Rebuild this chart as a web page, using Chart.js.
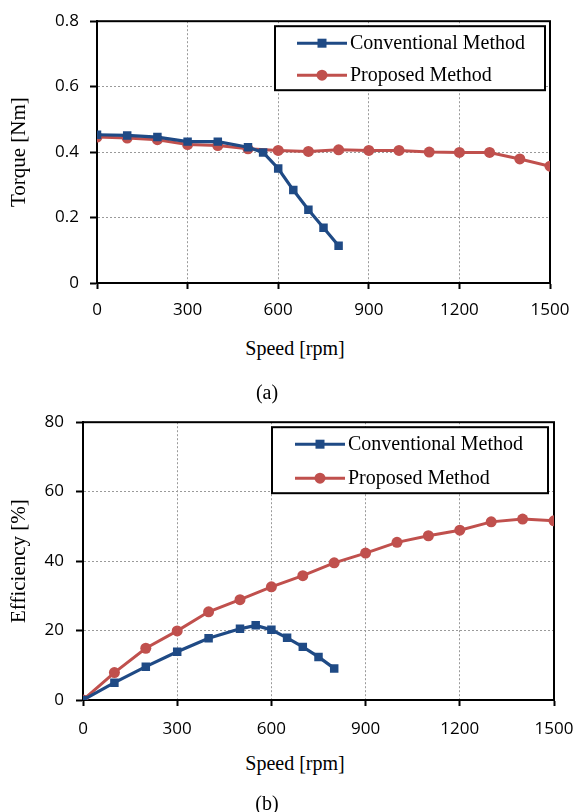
<!DOCTYPE html>
<html>
<head>
<meta charset="utf-8">
<script src="https://cdn.jsdelivr.net/npm/chart.js@4/dist/chart.umd.min.js"></script>
<style>
  body { margin: 0; background: #fff; width: 574px; height: 812px; position: relative; overflow: hidden; }
  .wrap { position: absolute; left: 0; width: 574px; }
  .txt { position: absolute; font-family: "Liberation Serif", "Times New Roman", serif; font-size: 20px; color: #000;
         transform: translate(-50%, -50%); white-space: nowrap; }
</style>
</head>
<body>
<div class="wrap" style="top:0;height:320px"><canvas id="torqueChart"></canvas></div>
<div class="wrap" style="top:400px;height:340px"><canvas id="effChart"></canvas></div>
<div class="txt" style="left:295px;top:348px">Speed [rpm]</div>
<div class="txt" style="left:267px;top:392px">(a)</div>
<div class="txt" style="left:295px;top:763px">Speed [rpm]</div>
<div class="txt" style="left:267px;top:803px">(b)</div>
<script>
// speeds (rpm)
const convSpeed = [0, 100, 200, 300, 400, 500, 550, 600, 650, 700, 750, 800];
const propSpeed = [0, 100, 200, 300, 400, 500, 600, 700, 800, 900, 1000, 1100, 1200, 1300, 1400, 1500];

// torque [Nm]
const convTorque = [0.453, 0.451, 0.446, 0.432, 0.432, 0.415, 0.399, 0.350, 0.284, 0.224, 0.169, 0.114];
const propTorque = [0.446, 0.443, 0.438, 0.423, 0.420, 0.410, 0.405, 0.402, 0.407, 0.405, 0.405, 0.400, 0.399, 0.399, 0.379, 0.357];

// efficiency [%]
const convEff = [0, 5.0, 9.6, 13.9, 17.8, 20.5, 21.5, 20.2, 17.9, 15.3, 12.4, 9.1];
const propEff = [0, 7.9, 14.9, 19.9, 25.4, 28.9, 32.6, 35.8, 39.5, 42.3, 45.4, 47.3, 48.9, 51.3, 52.1, 51.6];

const seriesNames = ['Conventional Method', 'Proposed Method'];
const blue = '#1f4a85';
const red = '#c0504d';

function pts(xs, ys) {
  return xs.map((x, i) => ({ x: x, y: ys[i] }));
}

// black box round the plot area
const frame = {
  id: 'frame',
  beforeDatasetsDraw(chart) {
    const a = chart.chartArea;
    const ctx = chart.ctx;
    ctx.save();
    ctx.strokeStyle = '#000';
    ctx.lineWidth = 2;
    ctx.strokeRect(a.left, a.top, a.right - a.left, a.bottom - a.top);
    ctx.restore();
  }
};

// legend inside a bordered box, line + marker samples
const boxLegend = {
  id: 'boxLegend',
  afterDraw(chart, args, opts) {
    const a = chart.chartArea;
    const ctx = chart.ctx;
    const x0 = a.right - opts.right - opts.width;
    const y0 = a.top + opts.top;
    ctx.save();
    ctx.fillStyle = '#fff';
    ctx.fillRect(x0, y0, opts.width, opts.height);
    ctx.strokeStyle = '#000';
    ctx.lineWidth = 2;
    ctx.strokeRect(x0, y0, opts.width, opts.height);
    ctx.font = '20px "Liberation Serif", serif';
    ctx.textBaseline = 'middle';
    chart.data.datasets.forEach((ds, i) => {
      const y = y0 + opts.rowStart + i * opts.rowGap;
      const lx = x0 + opts.lineStart;
      ctx.strokeStyle = ds.borderColor;
      ctx.lineWidth = 3;
      ctx.beginPath();
      ctx.moveTo(lx, y);
      ctx.lineTo(lx + 50, y);
      ctx.stroke();
      ctx.fillStyle = ds.borderColor;
      if (ds.pointStyle === 'rect') {
        ctx.fillRect(lx + 25 - 4.5, y - 4.5, 9, 9);
      } else {
        ctx.beginPath();
        ctx.arc(lx + 25, y, 5.5, 0, Math.PI * 2);
        ctx.fill();
      }
      ctx.fillStyle = '#000';
      ctx.fillText(ds.label, lx + 53, y + 1);
    });
    ctx.restore();
  }
};

function makeChart(id, convY, propY, cfg) {
  const ctx = document.getElementById(id).getContext('2d');
  return new Chart(ctx, {
    type: 'line',
    data: {
      datasets: [
        {
          label: seriesNames[0],
          data: pts(convSpeed, convY),
          borderColor: blue,
          backgroundColor: blue,
          borderWidth: 3.2,
          pointStyle: 'rect',
          pointRadius: 6,
          pointBorderWidth: 0
        },
        {
          label: seriesNames[1],
          data: pts(propSpeed, propY),
          borderColor: red,
          backgroundColor: red,
          borderWidth: 3,
          pointStyle: 'circle',
          pointRadius: 5.5,
          pointBorderWidth: 0
        }
      ]
    },
    options: {
      responsive: true,
      maintainAspectRatio: false,
      animation: false,
      layout: { padding: cfg.padding },
      plugins: {
        legend: { display: false },
        tooltip: { enabled: false },
        boxLegend: cfg.legend
      },
      scales: {
        x: {
          type: 'linear',
          min: 0,
          max: 1500,
          afterFit: (s) => {
            s.height = cfg.xHeight;
            // let the layout padding alone decide the plot edges
            s.paddingLeft = 0;
            s.paddingRight = 0;
          },
          ticks: {
            stepSize: 300,
            padding: cfg.xPad,
            maxRotation: 0,
            color: '#000',
            callback: (v) => String(v),
            font: { family: '"Open Sans", sans-serif', size: 17 }
          },
          grid: {
            color: '#9a9a9a',
            lineWidth: 1,
            tickLength: 6,
            tickColor: '#000',
            tickWidth: 2,
            tickBorderDash: []
          },
          border: { color: '#000', width: 2, dash: [2, 2] }
        },
        y: {
          min: 0,
          max: cfg.yMax,
          afterFit: (s) => { s.width = cfg.yWidth; },
          title: {
            display: true,
            text: cfg.yTitle,
            color: '#000',
            font: { family: '"Liberation Serif", serif', size: 21 }
          },
          ticks: {
            stepSize: cfg.yStep,
            padding: cfg.yPad,
            color: '#000',
            callback: cfg.yFormat,
            font: { family: '"Open Sans", sans-serif', size: 17 }
          },
          grid: {
            color: '#9a9a9a',
            lineWidth: 1,
            tickLength: 7,
            tickColor: '#000',
            tickWidth: 2,
            tickBorderDash: []
          },
          border: { color: '#000', width: 2, dash: [2, 2] }
        }
      }
    },
    plugins: [frame, boxLegend]
  });
}

makeChart('torqueChart', convTorque, propTorque, {
  padding: { left: 3, top: 16, right: 24, bottom: 0 },
  xHeight: 37, xPad: 11,
  yWidth: 94, yPad: 11,
  yMax: 0.8, yStep: 0.2,
  yFormat: (v) => (v === 0 ? '0' : v.toFixed(1)),
  yTitle: 'Torque [Nm]',
  legend: { right: 5, top: 5, width: 270, height: 64, rowStart: 17, rowGap: 32, lineStart: 22 }
});

makeChart('effChart', convEff, propEff, {
  padding: { left: 3, top: 21, right: 20, bottom: 0 },
  xHeight: 40, xPad: 13,
  yWidth: 80, yPad: 12,
  yMax: 80, yStep: 20,
  yFormat: (v) => String(Math.round(v)),
  yTitle: 'Efficiency [%]',
  legend: { right: 6, top: 5, width: 276, height: 66, rowStart: 17, rowGap: 34, lineStart: 23 }
});
</script>
</body>
</html>
